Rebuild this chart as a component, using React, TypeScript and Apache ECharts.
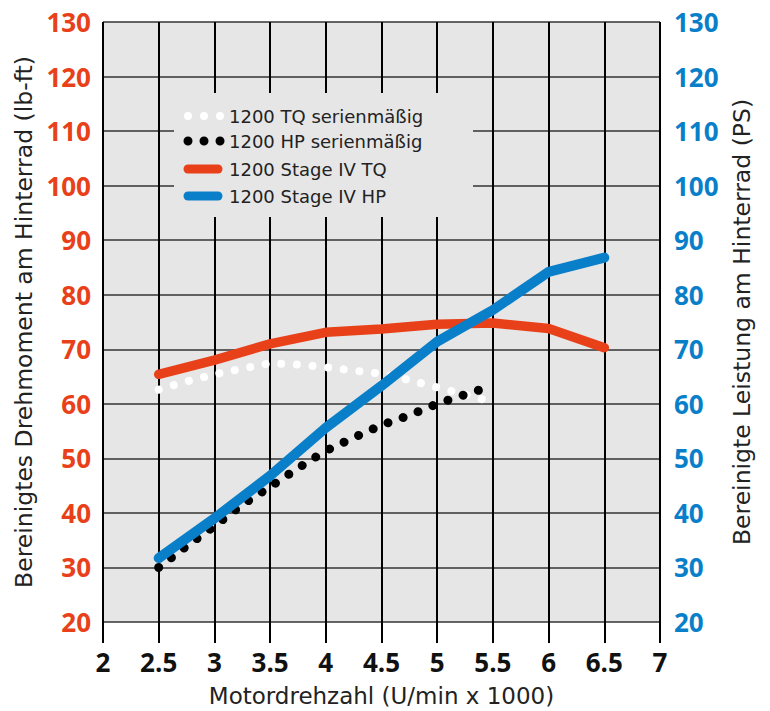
import React, { useEffect, useRef } from "react";
import * as echarts from "echarts";

// Motor speed (U/min x 1000) for the Stage IV curves
const rpmStage = [2.5, 3, 3.5, 4, 4.5, 5, 5.5, 6, 6.5];
const tqStage = [65.4, 68.0, 71.0, 73.1, 73.7, 74.6, 74.8, 73.8, 70.3];
const hpStage = [31.7, 39.0, 46.8, 55.6, 63.3, 71.4, 77.2, 84.2, 86.8];

// Stock (serienmäßig) curves
const rpmStockTq = [2.5, 2.75, 3, 3.25, 3.5, 3.75, 4, 4.25, 4.5, 4.75, 5, 5.25, 5.45];
const tqStock = [62.6, 64.1, 65.4, 66.45, 67.45, 67.2, 66.7, 66.1, 65.5, 64.35, 63.0, 61.7, 60.6];
const rpmStockHp = [2.5, 2.75, 3, 3.25, 3.5, 3.75, 4, 4.25, 4.5, 4.75, 5, 5.25, 5.39];
const hpStock = [30.0, 33.9, 37.6, 41.5, 44.8, 48.2, 51.4, 53.8, 56.1, 57.9, 60.0, 61.7, 62.6];

const seriesNames = [
  "1200 TQ serienmäßig",
  "1200 HP serienmäßig",
  "1200 Stage IV TQ",
  "1200 Stage IV HP",
];

const RED = "#e8411a";
const BLUE = "#0a7fc9";
const TEXT = "#222222";
const TICK_FONT = "'Open Sans', 'DejaVu Sans', sans-serif";
const NAME_FONT = "'DejaVu Sans', sans-serif";

const pairs = (xs: number[], ys: number[]) => xs.map((x, i) => [x, ys[i]]);

export default function App() {
  const ref = useRef<HTMLDivElement>(null);

  useEffect(() => {
    if (!ref.current) return;
    const chart = echarts.init(ref.current, null, { renderer: "svg" });

    const legendX = 188;
    const legendRows = [
      { y: 116, kind: "dots", color: "#ffffff", width: 8 },
      { y: 141, kind: "dots", color: "#000000", width: 9 },
      { y: 169, kind: "line", color: RED, width: 9 },
      { y: 196, kind: "line", color: BLUE, width: 9 },
    ];

    const legendGraphics: any[] = [
      {
        type: "rect",
        z: 1,
        shape: { x: 174, y: 93, width: 299, height: 124 },
        style: { fill: "#e6e6e6" },
      },
    ];
    legendRows.forEach((r, i) => {
      if (r.kind === "dots") {
        legendGraphics.push({
          type: "line",
          z: 1,
          shape: { x1: legendX, y1: r.y, x2: legendX + 33, y2: r.y },
          style: {
            stroke: r.color,
            lineWidth: r.width,
            lineCap: "round",
            lineDash: [0.01, 16],
          },
        });
      } else {
        legendGraphics.push({
          type: "line",
          z: 1,
          shape: { x1: legendX, y1: r.y, x2: legendX + 30, y2: r.y },
          style: { stroke: r.color, lineWidth: r.width, lineCap: "round" },
        });
      }
      legendGraphics.push({
        type: "text",
        z: 1,
        x: 229,
        y: r.y,
        style: {
          text: seriesNames[i],
          fill: TEXT,
          fontSize: 18,
          fontFamily: NAME_FONT,
          align: "left",
          verticalAlign: "middle",
        },
      });
    });

    const option: any = {
      animation: false,
      grid: {
        left: 103,
        right: 110,
        top: 22,
        bottom: 89,
        show: true,
        containLabel: false,
        outerBoundsMode: "none",
        backgroundColor: "#e6e6e6",
        borderWidth: 0,
      },
      xAxis: {
        type: "value",
        min: 2,
        max: 7,
        interval: 0.5,
        name: "Motordrehzahl (U/min x 1000)",
        nameLocation: "middle",
        nameGap: 63,
        nameTextStyle: { color: TEXT, fontSize: 23, lineHeight: 22, fontFamily: NAME_FONT },
        axisLine: { show: false },
        axisTick: { show: true, length: 21, lineStyle: { color: "#000", width: 2 } },
        axisLabel: {
          margin: 27,
          color: "#111",
          fontSize: 26,
          fontWeight: "bold",
          fontFamily: TICK_FONT,
        },
        splitLine: { show: true, lineStyle: { color: "#000", width: 2 } },
      },
      yAxis: [
        {
          type: "value",
          min: 20,
          max: 130,
          interval: 10,
          position: "left",
          name: "Bereinigtes Drehmoment am Hinterrad (lb-ft)",
          nameLocation: "middle",
          nameRotate: 90,
          nameGap: 66,
          nameTextStyle: { color: TEXT, fontSize: 23.5, fontFamily: NAME_FONT },
          axisLine: { show: false },
          axisTick: { show: false },
          axisLabel: {
            margin: 12,
            color: RED,
            fontSize: 26,
            fontWeight: "bold",
            fontFamily: TICK_FONT,
          },
          splitLine: { show: true, lineStyle: { color: "#333", width: 1.5 } },
        },
        {
          type: "value",
          min: 20,
          max: 130,
          interval: 10,
          position: "right",
          name: "Bereinigte Leistung am Hinterrad (PS)",
          nameLocation: "middle",
          nameRotate: 90,
          nameGap: 70,
          nameTextStyle: { color: TEXT, fontSize: 23.5, fontFamily: NAME_FONT },
          axisLine: { show: false },
          axisTick: { show: false },
          axisLabel: {
            margin: 14,
            color: BLUE,
            fontSize: 26,
            fontWeight: "bold",
            fontFamily: TICK_FONT,
          },
          splitLine: { show: false },
        },
      ],
      graphic: legendGraphics,
      series: [
        {
          name: seriesNames[0],
          type: "line",
          yAxisIndex: 0,
          data: pairs(rpmStockTq, tqStock),
          showSymbol: false,
          symbol: "none",
          lineStyle: { color: "#ffffff", width: 8, type: [0.01, 15.7], cap: "round", join: "round" },
        },
        {
          name: seriesNames[1],
          type: "line",
          yAxisIndex: 1,
          data: pairs(rpmStockHp, hpStock),
          showSymbol: false,
          symbol: "none",
          lineStyle: { color: "#000000", width: 9, type: [0.01, 16], cap: "round", join: "round" },
        },
        {
          name: seriesNames[2],
          type: "line",
          yAxisIndex: 0,
          data: pairs(rpmStage, tqStage),
          showSymbol: false,
          symbol: "none",
          lineStyle: { color: RED, width: 9.5, cap: "round", join: "round" },
        },
        {
          name: seriesNames[3],
          type: "line",
          yAxisIndex: 1,
          data: pairs(rpmStage, hpStage),
          showSymbol: false,
          symbol: "none",
          lineStyle: { color: BLUE, width: 10, cap: "round", join: "round" },
        },
      ],
    };

    chart.setOption(option);
    return () => chart.dispose();
  }, []);

  return (
    <div
      ref={ref}
      style={{ position: "fixed", left: 0, top: 0, width: 770, height: 711, background: "#fff" }}
    />
  );
}
